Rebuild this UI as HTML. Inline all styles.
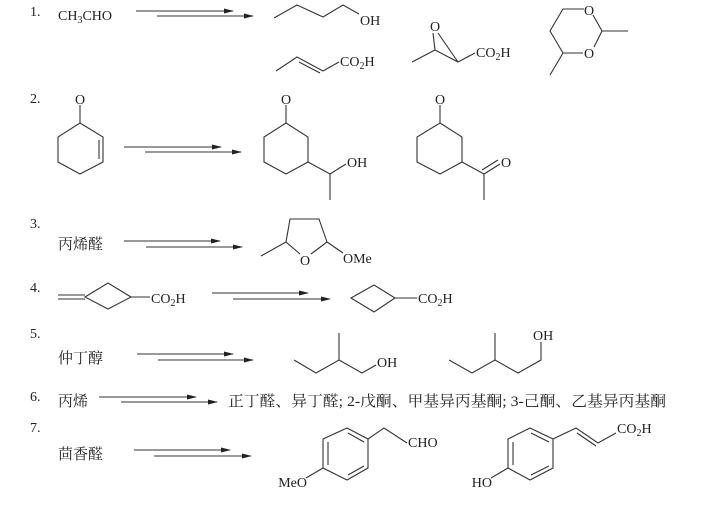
<!DOCTYPE html>
<html><head><meta charset="utf-8"><style>
html,body{margin:0;padding:0;background:#fff;}
svg{display:block;}
text{font-family:"Liberation Serif","Noto Serif CJK SC",serif;fill:#222;}
</style></head><body>
<svg width="717" height="507" viewBox="0 0 717 507" xmlns="http://www.w3.org/2000/svg">
<defs><marker id="a" markerWidth="10" markerHeight="6" refX="9" refY="3" orient="auto" markerUnits="userSpaceOnUse"><path d="M0,0.5 L10,3 L0,5.5z" fill="#222"/></marker></defs>
<g stroke="#333" stroke-width="1.1" fill="none">
<line x1="136" y1="11" x2="233" y2="11" marker-end="url(#a)"/><line x1="157" y1="16" x2="253" y2="16" marker-end="url(#a)"/>
<line x1="124" y1="147" x2="221" y2="147" marker-end="url(#a)"/><line x1="145" y1="152" x2="241" y2="152" marker-end="url(#a)"/>
<line x1="124" y1="241" x2="220" y2="241" marker-end="url(#a)"/><line x1="146" y1="247" x2="242" y2="247" marker-end="url(#a)"/>
<line x1="212" y1="293" x2="308" y2="293" marker-end="url(#a)"/><line x1="233" y1="299" x2="330" y2="299" marker-end="url(#a)"/>
<line x1="137" y1="354" x2="233" y2="354" marker-end="url(#a)"/><line x1="158" y1="360" x2="253" y2="360" marker-end="url(#a)"/>
<line x1="99" y1="397" x2="196" y2="397" marker-end="url(#a)"/><line x1="121" y1="402" x2="217" y2="402" marker-end="url(#a)"/>
<line x1="134" y1="450" x2="230" y2="450" marker-end="url(#a)"/><line x1="154" y1="456" x2="251" y2="456" marker-end="url(#a)"/>
<polyline points="274,18 297,5 323,17 343,5 359,14"/>
<polyline points="276,71 297,57 323,71 339,62"/><line x1="299" y1="62" x2="320" y2="73"/>
<polyline points="433,33 435,50 458,62 438,33"/><line x1="435" y1="50" x2="412" y2="62"/><line x1="458" y1="62" x2="475" y2="53"/>
<polyline points="584,9 563,9 550,31 563,53 583,53"/><line x1="593" y1="15" x2="602" y2="31"/><line x1="602" y1="31" x2="594" y2="47"/><line x1="602" y1="31" x2="628" y2="31"/><line x1="563" y1="53" x2="550" y2="75"/>
<line x1="80" y1="105" x2="80" y2="123"/><polygon points="80,123 103,137 103,162 80,174 58,162 58,137"/><line x1="99" y1="140" x2="99" y2="159"/>
<line x1="286" y1="105" x2="286" y2="123"/><polygon points="286,123 308,137 308,162 286,174 264,162 264,137"/><polyline points="308,162 330,174 346,164"/><line x1="330" y1="174" x2="330" y2="200"/>
<line x1="440" y1="105" x2="440" y2="123"/><polygon points="440,123 462,137 462,162 440,174 417,162 417,137"/><line x1="462" y1="162" x2="484" y2="174"/><line x1="484" y1="174" x2="484" y2="200"/><line x1="484" y1="174" x2="500" y2="164"/><line x1="482" y1="170" x2="498" y2="160"/>
<polyline points="300,254 286,242 290,219 319,219 327,242 311,254"/><line x1="286" y1="242" x2="261" y2="256"/><line x1="327" y1="242" x2="343" y2="253"/>
<line x1="58" y1="295" x2="85" y2="295"/><line x1="58" y1="299" x2="85" y2="299"/><polygon points="85,297 108,283 131,297 108,309"/><line x1="131" y1="297" x2="150" y2="297"/>
<polygon points="351,298 374,285 395,298 374,312"/><line x1="395" y1="298" x2="417" y2="298"/>
<polyline points="294,360 316,373 339,360 362,373 376,365"/><line x1="339" y1="360" x2="339" y2="333"/>
<polyline points="449,360 472,373 495,360 518,373 541,360 541,342"/><line x1="495" y1="360" x2="495" y2="333"/>
<polygon points="347,428 368,439 368,468 347,480 323,468 323,439"/><line x1="328" y1="442" x2="328" y2="465"/><line x1="348" y1="433" x2="364" y2="442"/><line x1="348" y1="475" x2="364" y2="466"/>
<polyline points="368,439 384,428 407,443"/><line x1="323" y1="468" x2="306" y2="478"/>
<polygon points="530,428 553,439 553,468 530,480 508,468 508,439"/><line x1="513" y1="442" x2="513" y2="465"/><line x1="531" y1="433" x2="549" y2="442"/><line x1="531" y1="475" x2="549" y2="466"/>
<polyline points="553,439 576,428 598,443 616,433"/><line x1="577" y1="433" x2="596" y2="446"/><line x1="508" y1="468" x2="491" y2="478"/>
</g>
<g font-size="14">
<text x="30" y="16">1.</text><text x="58" y="20">CH<tspan font-size="10" dy="3">3</tspan><tspan dy="-3">CHO</tspan></text>
<text x="360" y="25">OH</text><text x="340" y="66">CO<tspan font-size="10" dy="3">2</tspan><tspan dy="-3">H</tspan></text>
<text x="430" y="31">O</text><text x="476" y="57">CO<tspan font-size="10" dy="3">2</tspan><tspan dy="-3">H</tspan></text>
<text x="584" y="15">O</text><text x="584" y="58">O</text>
<text x="30" y="103">2.</text><text x="75" y="104">O</text><text x="281" y="104">O</text><text x="435" y="104">O</text>
<text x="347" y="167">OH</text><text x="501" y="167">O</text>
<text x="30" y="228">3.</text><text x="300" y="265">O</text><text x="343" y="263">OMe</text>
<text x="30" y="292">4.</text><text x="151" y="303">CO<tspan font-size="10" dy="3">2</tspan><tspan dy="-3">H</tspan></text><text x="418" y="303">CO<tspan font-size="10" dy="3">2</tspan><tspan dy="-3">H</tspan></text>
<text x="30" y="338">5.</text><text x="377" y="367">OH</text><text x="533" y="340">OH</text>
<text x="30" y="401">6.</text>
<text x="30" y="432">7.</text><text x="408" y="447">CHO</text><text x="307" y="487" text-anchor="end">MeO</text><text x="492" y="487" text-anchor="end">HO</text>
<text x="617" y="433">CO<tspan font-size="10" dy="3">2</tspan><tspan dy="-3">H</tspan></text>
</g>
<g font-size="15">
<text x="58" y="249">丙烯醛</text><text x="58" y="363">仲丁醇</text><text x="58" y="406">丙烯</text><text x="58" y="459">茴香醛</text>
<text x="228" y="406" textLength="438" lengthAdjust="spacingAndGlyphs">正丁醛、异丁醛; 2-戊酮、甲基异丙基酮; 3-己酮、乙基异丙基酮</text>
</g>
</svg>
</body></html>
